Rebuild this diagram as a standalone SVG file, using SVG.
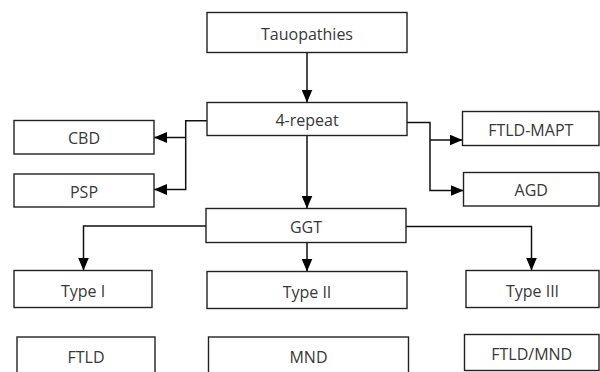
<svg xmlns="http://www.w3.org/2000/svg" width="600" height="372" viewBox="0 0 600 372">
<defs>
<marker id="ah" markerUnits="userSpaceOnUse" markerWidth="13" markerHeight="11" refX="13" refY="5.5" orient="auto">
<path d="M0,0 L13,5.5 L0,11 z" fill="#000"/>
</marker>
<style>
.box{fill:#fff;stroke:#222;stroke-width:1.4}
.lbl{font-family:"Open Sans","Noto Sans","Liberation Sans",sans-serif;font-size:16px;fill:#383838;text-anchor:middle}
.con{fill:none;stroke:#111;stroke-width:1.5}
</style>
</defs>
<rect width="600" height="372" fill="#fff"/>
<g id="connectors">
<path class="con" d="M307,52.5 V102.5" marker-end="url(#ah)"/>
<path class="con" d="M207,120.7 H185.7 V189.5 H154" marker-end="url(#ah)"/>
<path class="con" d="M185.7,137.5 H154" marker-end="url(#ah)"/>
<path class="con" d="M407,122.5 H430 V190.5 H463.5" marker-end="url(#ah)"/>
<path class="con" d="M430,140 H462.5" marker-end="url(#ah)"/>
<path class="con" d="M307,135.5 V208.5" marker-end="url(#ah)"/>
<path class="con" d="M206,226 H83.5 V270.5" marker-end="url(#ah)"/>
<path class="con" d="M406,226.5 H531.5 V270.5" marker-end="url(#ah)"/>
<path class="con" d="M307,242.5 V271.5" marker-end="url(#ah)"/>
</g>
<g id="tauopathies"><rect class="box" x="207" y="12.5" width="200" height="40"/><text class="lbl" x="307" y="39.5">Tauopathies</text></g>
<g id="four-repeat"><rect class="box" x="207" y="102.5" width="200" height="33"/><text class="lbl" x="307" y="126">4-repeat</text></g>
<g id="cbd"><rect class="box" x="14" y="120.5" width="140" height="33.5"/><text class="lbl" x="84" y="144.3">CBD</text></g>
<g id="psp"><rect class="box" x="14" y="174" width="140" height="33"/><text class="lbl" x="84" y="197.5">PSP</text></g>
<g id="ftld-mapt"><rect class="box" x="462.5" y="111.5" width="136.5" height="34"/><text class="lbl" x="530.75" y="135.5">FTLD-MAPT</text></g>
<g id="agd"><rect class="box" x="463.5" y="172.5" width="135.5" height="33.5"/><text class="lbl" x="531.25" y="196.3">AGD</text></g>
<g id="ggt"><rect class="box" x="206" y="208.5" width="200" height="34"/><text class="lbl" x="306" y="232.5">GGT</text></g>
<g id="type-i"><rect class="box" x="14" y="270.5" width="138" height="37"/><text class="lbl" x="83" y="296.5">Type I</text></g>
<g id="type-ii"><rect class="box" x="207" y="271.5" width="200" height="37"/><text class="lbl" x="307" y="297.5">Type II</text></g>
<g id="type-iii"><rect class="box" x="466" y="270.5" width="133" height="37"/><text class="lbl" x="532.5" y="296.5">Type III</text></g>
<g id="ftld"><rect class="box" x="17" y="337" width="138" height="40"/><text class="lbl" x="86" y="363">FTLD</text></g>
<g id="mnd"><rect class="box" x="208.5" y="337" width="200" height="40"/><text class="lbl" x="308.5" y="363">MND</text></g>
<g id="ftld-mnd"><rect class="box" x="464.5" y="334.5" width="134.5" height="36"/><text class="lbl" x="531.75" y="360">FTLD/MND</text></g>
</svg>
